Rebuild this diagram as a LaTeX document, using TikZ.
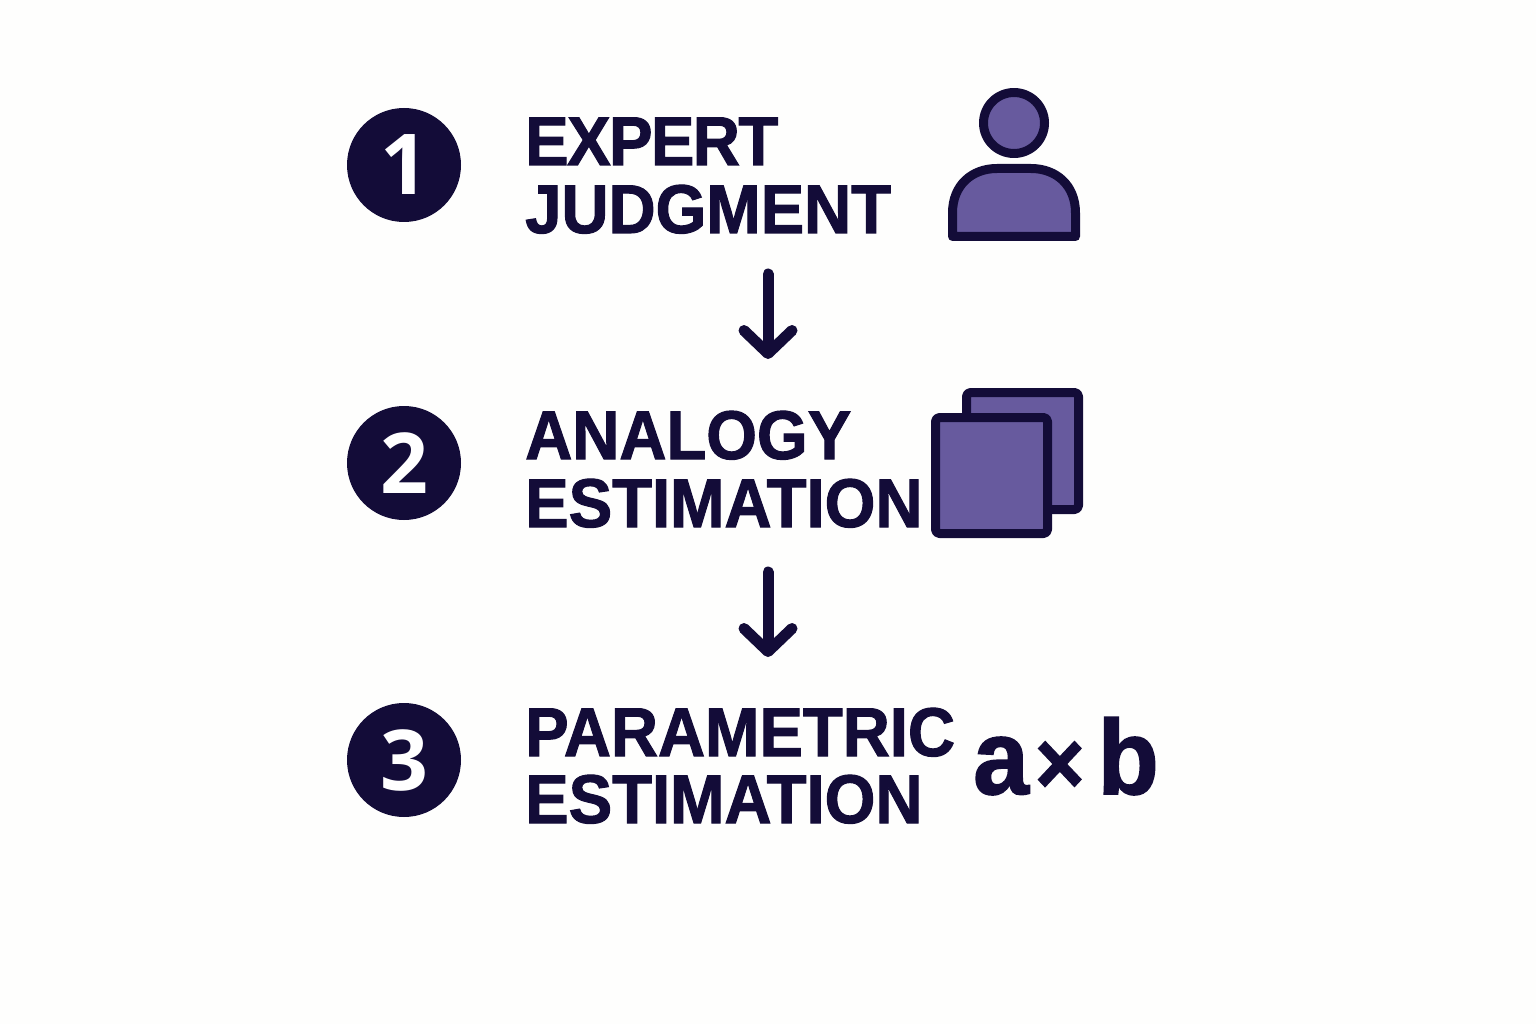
\documentclass[tikz,border=0pt]{standalone}
\usepackage{fontspec}
\setmainfont{Liberation Sans}
\newfontfamily\labelfont[FakeStretch=0.945,FakeBold=1.5]{Liberation Sans Bold}
\newfontfamily\digitfont{Open Sans}
\usetikzlibrary{arrows.meta}
\definecolor{ink}{HTML}{130C38}
\definecolor{violet}{HTML}{675A9E}
\definecolor{paper}{HTML}{FEFEFD}
\tikzset{
  x=1pt,y=-1pt,
  badge/.style={circle,fill=ink,text=white,minimum size=114pt,inner sep=0pt,font=\digitfont\bfseries\fontsize{84}{84}\selectfont},
  label/.style={anchor=base west,inner sep=0pt,align=left,text=ink,font=\labelfont\fontsize{69}{69}\selectfont},
  icon/.style={draw=ink,fill=violet,line join=round,line width=9pt},
  flow/.style={draw=ink,line width=11pt,line cap=round,line join=round,-{Straight Barb[round,length=23pt,width=48pt,line width=11pt]}},
}
\begin{document}
\begin{tikzpicture}
\useasboundingbox[fill=paper] (0,0) rectangle (1536,1024);
\node[badge] (n1) at (404,165) {1};
\node[badge] (n2) at (404,463) {2};
\node[badge] (n3) at (404,760) {3};
\node[label] (t1a) at (525,165) {\addfontfeature{LetterSpace=-2.3}EXPERT};
\node[label] (t1b) at (525,233) {JUDGMENT};
\node[label] (t2a) at (525,459) {ANALOGY};
\node[label] (t2b) at (525,527) {ESTIMATION};
\node[label] (t3a) at (525,756) {PARAMETRIC};
\node[label] (t3b) at (525,823) {ESTIMATION};
\coordinate (a1s) at (768,274);
\coordinate (a1e) at (768,359);
\coordinate (a2s) at (768,572);
\coordinate (a2e) at (768,657);
\draw[flow] (a1s) -- (a1e);
\draw[flow] (a2s) -- (a2e);
% person icon
\draw[icon] (1014,123) circle[radius=30.5];
\draw[icon] (952.5,236.5) -- (952.5,213) .. controls (952.5,185) and (972,168.5) .. (997,168.5) -- (1031,168.5) .. controls (1056,168.5) and (1075.5,185) .. (1075.5,213) -- (1075.5,236.5) -- cycle;
% stacked squares
\draw[icon,rounded corners=4pt] (966.5,392.5) rectangle (1078.5,509.5);
\draw[icon,rounded corners=4pt] (935.5,417.5) rectangle (1047.5,533.5);
\node[anchor=base west,inner sep=0pt,text=ink,font=\labelfont\fontsize{106}{106}\selectfont] (f) at (973,794) {a\kern6pt{\fontsize{90}{90}\selectfont ×}\kern13pt b};
\end{tikzpicture}
\end{document}
